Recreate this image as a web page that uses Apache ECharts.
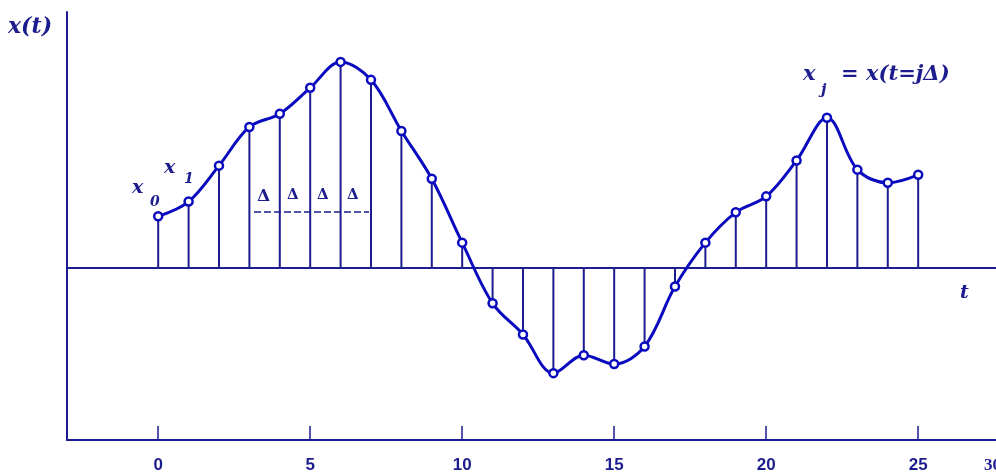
<!DOCTYPE html>
<html><head><meta charset="utf-8">
<script src="https://cdn.jsdelivr.net/npm/echarts@6/dist/echarts.min.js"></script>
<style>html,body{margin:0;padding:0;background:#fff}#c{width:996px;height:474px}</style>
</head><body><div id="c"></div>
<script>
const tValues = [0,1,2,3,4,5,6,7,8,9,10,11,12,13,14,15,16,17,18,19,20,21,22,23,24,25];
const xValues = [1.28,1.65,2.55,3.52,3.85,4.5,5.15,4.7,3.42,2.22,0.62,-0.9,-1.68,-2.65,-2.2,-2.42,-1.98,-0.48,0.62,1.38,1.78,2.68,3.75,2.45,2.12,2.32];
const tickLabels = [0,5,10,15,20,25];

const NAVY = '#1c1c8e';
const BLUE = '#0a0abe';
const FONT = 'DejaVu Serif';
const pts = tValues.map((t,i)=>[t,xValues[i]]);

const chart = echarts.init(document.getElementById('c'));
function txt(x,y,s,size,extra){
  return Object.assign({type:'text',x:x,y:y,style:{text:s,fill:NAVY,font:'italic bold '+size+'px "'+FONT+'"'}},extra||{});
}
function delta(x,size){
  return {type:'text',x:x,y:188,style:{text:'Δ',fill:NAVY,font:'bold '+size+'px "'+FONT+'"'}};
}
chart.setOption({
  animation:false,
  grid:{left:67,top:12,width:929,height:429,containLabel:false},
  xAxis:[{
    type:'value',min:-3,max:27.56,
    axisLine:{onZero:false,lineStyle:{color:NAVY,width:2}},
    axisTick:{show:true,inside:true,length:14,customValues:tickLabels,lineStyle:{color:NAVY,width:1.5}},
    axisLabel:{show:true,customValues:tickLabels,margin:17,color:NAVY,fontFamily:'Liberation Sans Narrow, Liberation Sans',fontWeight:'bold',fontSize:17},
    splitLine:{show:false}
  },{
    type:'value',position:'top',min:-3,max:27.56,
    axisLine:{lineStyle:{color:NAVY,width:2}},axisTick:{show:false},axisLabel:{show:false},splitLine:{show:false}
  }],
  yAxis:{
    type:'value',min:-4.325,max:6.4,
    axisLine:{show:true,onZero:false,lineStyle:{color:NAVY,width:2}},
    axisTick:{show:false},axisLabel:{show:false},splitLine:{show:false}
  },
  series:[{
    type:'bar',data:pts,barWidth:2,itemStyle:{color:NAVY},
    markLine:{silent:true,symbol:'none',label:{show:false},lineStyle:{color:NAVY,width:2,type:'solid'},data:[{yAxis:0}]}
  },{
    type:'line',data:pts,smooth:0.35,symbol:'circle',symbolSize:8,
    lineStyle:{color:BLUE,width:3},
    itemStyle:{color:'#fff',borderColor:BLUE,borderWidth:2.5},z:5
  }],
  graphic:[
    txt(8,16,'x(t)',22),
    txt(132,179,'x',19),
    txt(150,195,'0',14),
    txt(164,159,'x',19),
    txt(184,172,'1',14),
    txt(803,64,'x',21),
    txt(821,83,'j',15),
    txt(841,64,'=',21),
    txt(866,64,'x(t=jΔ)',21),
    txt(960,284,'t',19),
    delta(257,17),
    delta(287,15),
    delta(317,15),
    delta(347,15),
    {type:'line',shape:{x1:254,y1:212,x2:369,y2:212},style:{stroke:NAVY,lineWidth:1.5,lineDash:[7,3]}},
    {type:'text',x:984,y:457,style:{text:'30',fill:NAVY,font:'bold 17px "Liberation Sans Narrow"'}}
  ]
});
</script></body></html>
